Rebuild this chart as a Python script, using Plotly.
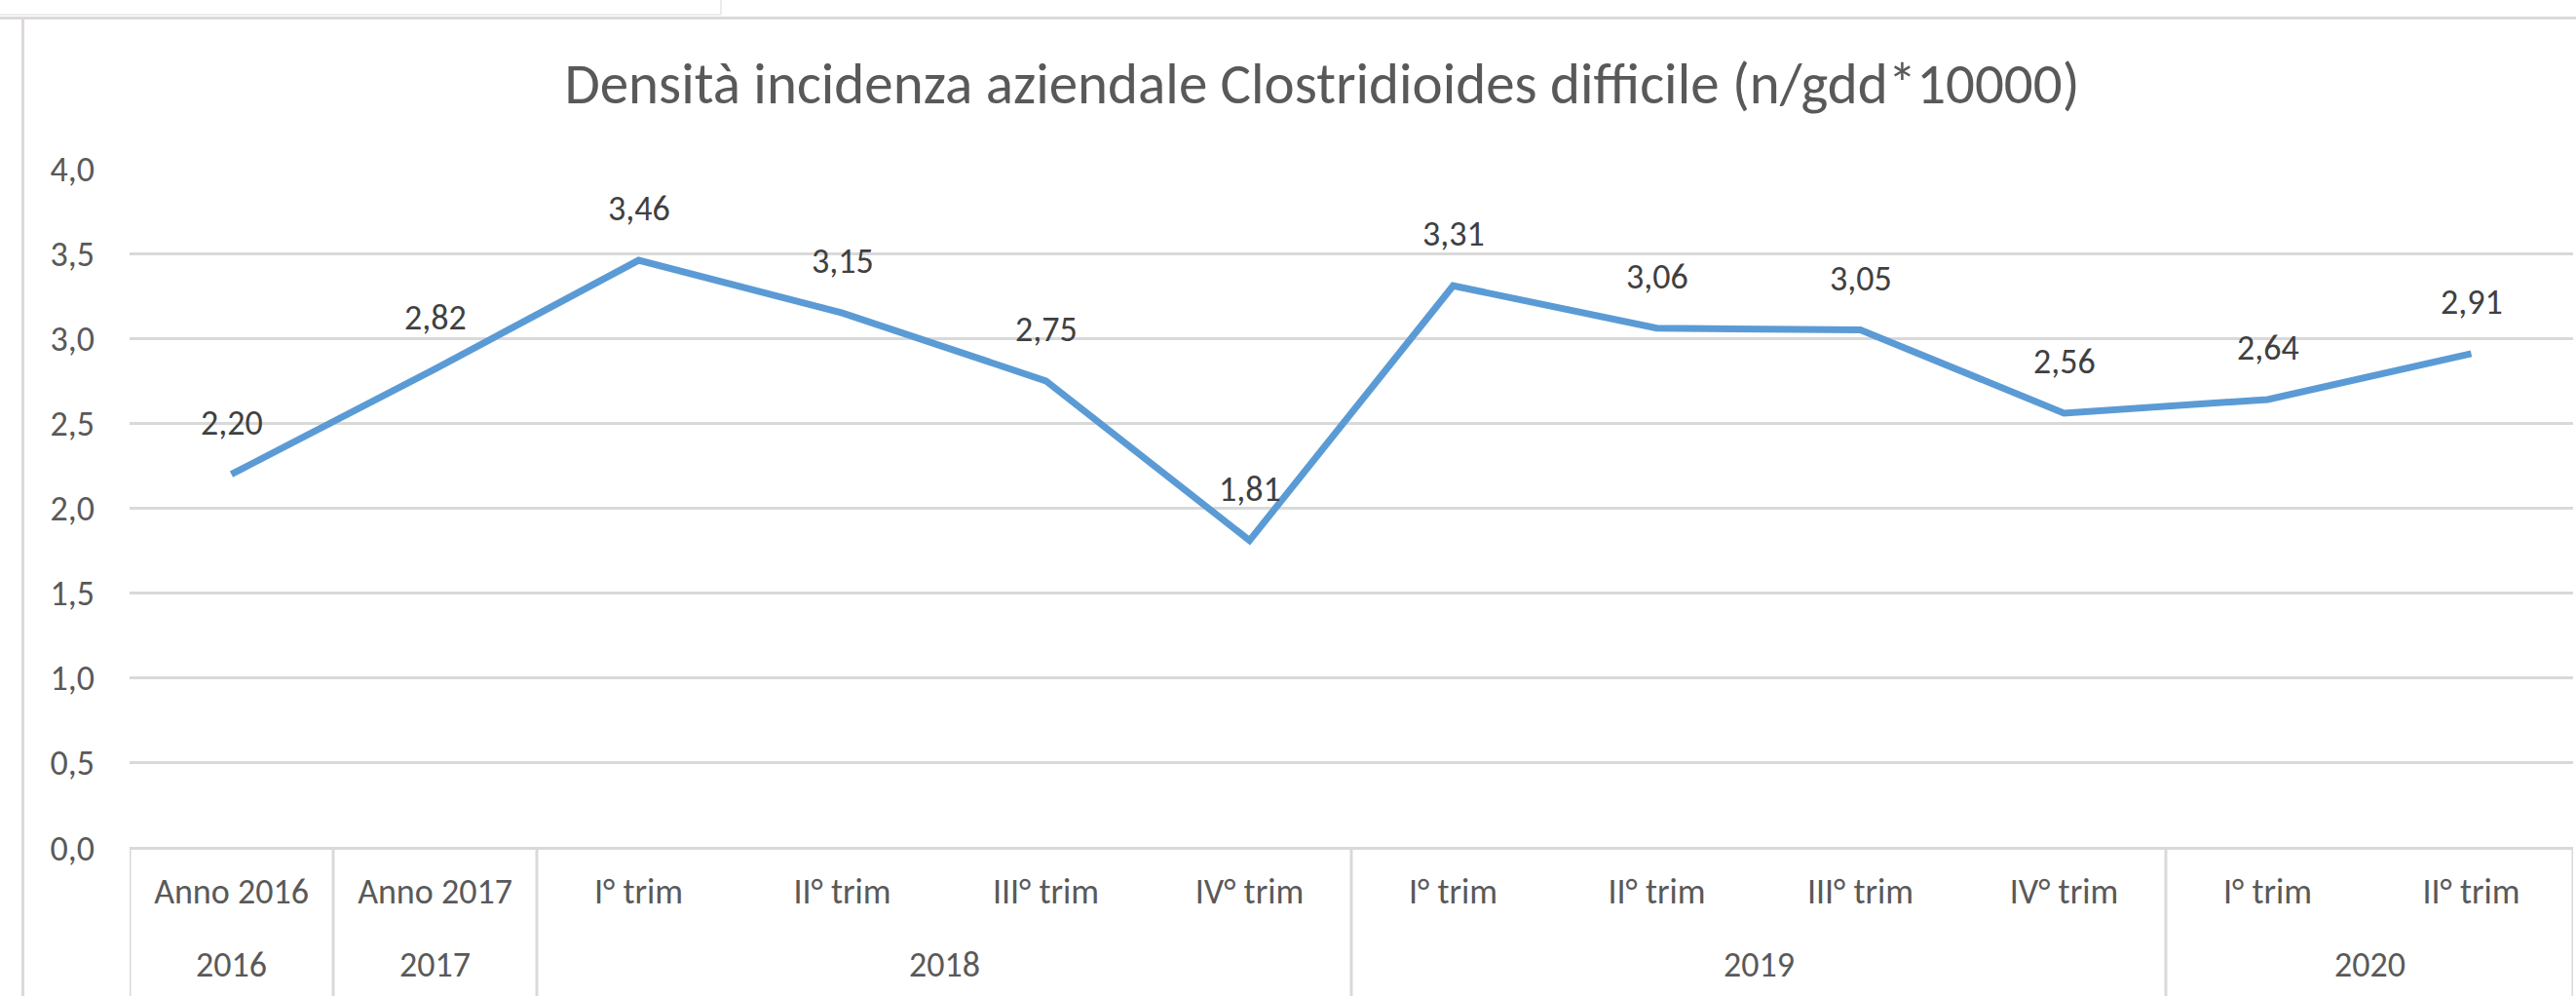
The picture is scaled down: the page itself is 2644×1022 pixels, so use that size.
import plotly.graph_objects as go

# ---- data ----
categories = ["Anno 2016", "Anno 2017", "I° trim", "II° trim", "III° trim", "IV° trim",
              "I° trim", "II° trim", "III° trim", "IV° trim", "I° trim", "II° trim"]
years = ["2016", "2017", "2018", "2018", "2018", "2018",
         "2019", "2019", "2019", "2019", "2020", "2020"]
values = [2.20, 2.82, 3.46, 3.15, 2.75, 1.81, 3.31, 3.06, 3.05, 2.56, 2.64, 2.91]
y_ticks = [0, 0.5, 1.0, 1.5, 2.0, 2.5, 3.0, 3.5, 4.0]
title_text = "Densità incidenza aziendale Clostridioides difficile (n/gdd*10000)"

FONT = "Carlito, Calibri, Lato, sans-serif"
TXT = "#595959"
GRID = "#d9d9d9"
LINE = "#5b9bd5"
FS = 36

W, H = 2644, 1022
ML, MR, MT, MB = 133, 3, 173, 152
PW, PH = W - ML - MR, H - MT - MB


def px_x(px):
    return (px - ML) / PW


def px_y(py):
    return (H - MB - py) / PH


xs = list(range(len(categories)))

fig = go.Figure()
fig.add_trace(go.Scatter(
    x=xs, y=values, mode="lines",
    line=dict(color=LINE, width=7),
    hoverinfo="skip", showlegend=False,
))

annotations = []
# data labels
for x, v in zip(xs, values):
    annotations.append(dict(
        x=x, y=v, xref="x", yref="y", text=f"{v:.2f}".replace(".", ","),
        showarrow=False, yshift=53, yanchor="middle",
        font=dict(family=FONT, size=FS, color="#404040"),
    ))

# year group labels + dividers
groups = []
for i, yv in enumerate(years):
    if not groups or groups[-1][0] != yv:
        groups.append([yv, i, i])
    else:
        groups[-1][2] = i

shapes = []
for name, a, b in groups:
    annotations.append(dict(
        x=(a + b) / 2, y=px_y(990), xref="x", yref="paper", text=name,
        showarrow=False, yanchor="middle",
        font=dict(family=FONT, size=FS, color=TXT),
    ))
    shapes.append(dict(type="line", xref="x", yref="paper",
                       x0=a - 0.5, x1=a - 0.5, y0=0, y1=px_y(H + 5),
                       line=dict(color=GRID, width=3)))
shapes.append(dict(type="line", xref="x", yref="paper",
                   x0=len(xs) - 0.5, x1=len(xs) - 0.5, y0=0, y1=px_y(H + 5),
                   line=dict(color=GRID, width=3)))

# chart-area border (left + top) and spreadsheet cell lines
shapes += [
    dict(type="line", xref="paper", yref="paper", x0=px_x(23.5), x1=px_x(23.5),
         y0=px_y(18), y1=px_y(H + 5), line=dict(color="#dcd8dc", width=3)),
    dict(type="line", xref="paper", yref="paper", x0=px_x(0), x1=px_x(W + 5),
         y0=px_y(18.5), y1=px_y(18.5), line=dict(color="#dcd8dc", width=3)),
    dict(type="line", xref="paper", yref="paper", x0=px_x(0), x1=px_x(740),
         y0=px_y(15), y1=px_y(15), line=dict(color="#e6e6e6", width=1.5)),
    dict(type="line", xref="paper", yref="paper", x0=px_x(740), x1=px_x(740),
         y0=px_y(-2), y1=px_y(15), line=dict(color="#e6e6e6", width=1.5)),
]

fig.update_layout(
    width=W, height=H,
    margin=dict(l=ML, r=MR, t=MT, b=MB, pad=0),
    paper_bgcolor="white", plot_bgcolor="white",
    separators=",.",
    title=dict(text=title_text, x=1357 / W, xanchor="center",
               y=1 - 85 / H, yanchor="middle", yref="container",
               font=dict(family=FONT, size=59, color=TXT)),
    xaxis=dict(
        range=[-0.5, len(xs) - 0.5], tickmode="array", tickvals=xs, ticktext=categories,
        showgrid=False, zeroline=False, showline=False, ticks="",
        ticklabelstandoff=20,
        tickfont=dict(family=FONT, size=FS, color=TXT), fixedrange=True,
    ),
    yaxis=dict(
        range=[0, 4.0], tickmode="array", tickvals=y_ticks, tickformat=".1f",
        showgrid=True, gridcolor=GRID, gridwidth=2.5,
        zeroline=True, zerolinecolor=GRID, zerolinewidth=3,
        showline=False, ticks="", ticklabelstandoff=35,
        tickfont=dict(family=FONT, size=FS, color=TXT), fixedrange=True,
    ),
    annotations=annotations,
    shapes=shapes,
)

fig.write_html("out.html", config={"displayModeBar": False},
               post_script="document.body.style.margin='0';")
